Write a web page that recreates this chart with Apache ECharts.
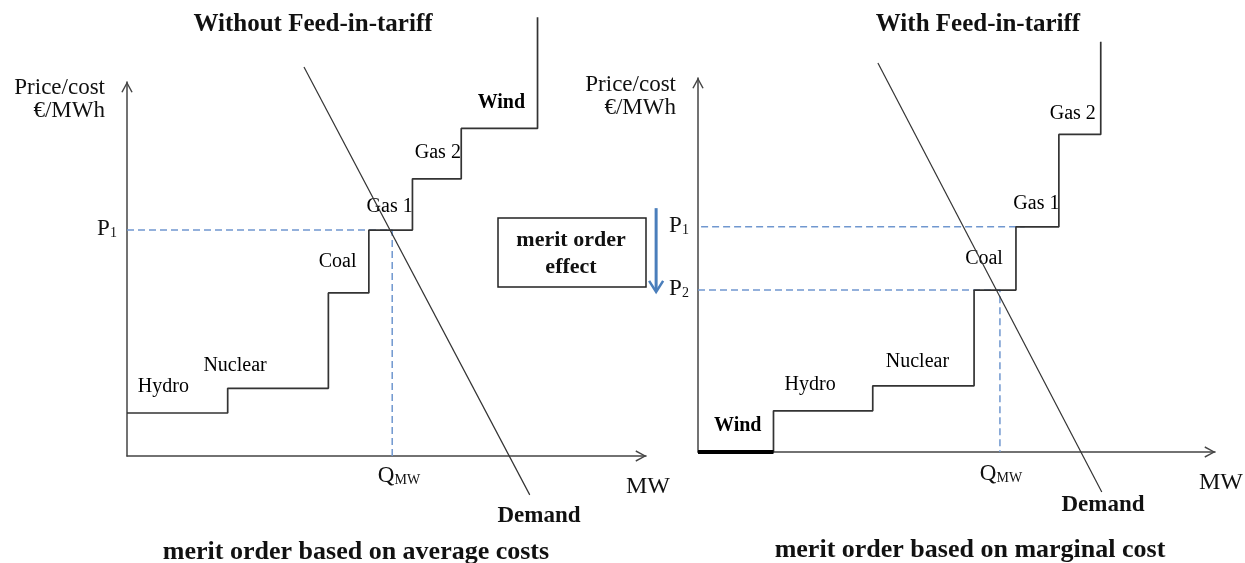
<!DOCTYPE html>
<html>
<head>
<meta charset="utf-8">
<title>Merit order effect</title>
<script src="https://cdn.jsdelivr.net/npm/echarts@6/dist/echarts.min.js"></script>
<style>
  html, body { margin: 0; padding: 0; background: #fff; }
  #chart { width: 1245px; height: 563px; }
</style>
</head>
<body>
<div id="chart"></div>
<script>
// 左图：没有上网电价 (units: MW on x, €/MWh on y, both 0..100)
const leftPlants = ['Hydro', 'Nuclear', 'Coal', 'Gas 1', 'Gas 2', 'Wind'];
const leftCapEdges = [0, 19.4, 38.8, 46.6, 55.0, 64.4, 79.1]; // cumulative capacity
const leftCost = [11.5, 18.1, 43.6, 60.4, 74.1, 87.6];
const leftCapTop = 117.3;
const leftDemand = [[34.1, 104.0], [77.6, -10.4]];
const leftP1 = 60.4;
const leftQ = 51.1;

// 右图：有上网电价
const rightPlants = ['Wind', 'Hydro', 'Nuclear', 'Coal', 'Gas 1', 'Gas 2'];
const rightCapEdges = [0, 14.6, 33.8, 53.4, 61.5, 69.8, 77.9];
const rightCost = [0, 11.0, 17.7, 43.3, 60.2, 84.9];
const rightCapTop = 109.7;
const rightDemand = [[34.8, 104.0], [78.1, -10.7]];
const rightP1 = 60.2;
const rightP2 = 43.3;
const rightQ = 58.4;
const rightP1DashEnd = 63.2;

// label offsets (px) from the middle of each step
const leftLabelOffset = [[-14, -26], [-43, -23], [-11, -31], [-1, -23], [1, -26], [2, -26]];
const rightLabelOffset = [[2, -26], [-13, -26], [-6, -24], [-11, -31], [-1, -23], [-7, -21]];

const FONT = '"Liberation Serif", "Times New Roman", serif';
const LINE = '#333';
const DASH = '#7097cf';
const BLUE = '#4a7ebb';
const chevron = 'path://M0,11 L6,0 L12,11 L10.6,11.6 L6,2.8 L1.4,11.6 Z';

function stepPoints(edges, cost, top) {
  const pts = [];
  for (let i = 0; i < cost.length; i++) {
    pts.push([edges[i], cost[i]], [edges[i + 1], cost[i]]);
  }
  pts.push([edges[edges.length - 1], top]);
  return pts;
}

function plantLabels(names, edges, cost, offsets) {
  return names.map((n, i) => ({
    name: n,
    value: [(edges[i] + edges[i + 1]) / 2, cost[i]],
    label: {
      offset: offsets[i],
      fontWeight: n === 'Wind' ? 'bold' : 'normal'
    }
  }));
}

function axisPair(gridIndex) {
  return {
    gridIndex: gridIndex,
    type: 'value',
    min: 0,
    max: 100,
    axisLabel: { show: false },
    axisTick: { show: false },
    splitLine: { show: false },
    axisLine: {
      show: true,
      symbol: ['none', chevron],
      symbolSize: [12, 11],
      symbolOffset: [0, -5],
      lineStyle: { color: '#444', width: 1.5 }
    }
  };
}

function line(gridIndex, data, style) {
  return {
    type: 'line',
    xAxisIndex: gridIndex,
    yAxisIndex: gridIndex,
    data: data,
    symbol: 'none',
    clip: false,
    silent: true,
    lineStyle: style
  };
}

function labelSeries(gridIndex, data) {
  return {
    type: 'scatter',
    xAxisIndex: gridIndex,
    yAxisIndex: gridIndex,
    data: data,
    symbolSize: 0,
    clip: false,
    silent: true,
    itemStyle: { color: '#000', opacity: 1 },
    label: {
      show: true,
      position: 'inside',
      formatter: '{b}',
      color: '#000',
      opacity: 1,
      textBorderWidth: 0,
      fontFamily: FONT,
      fontSize: 20
    }
  };
}

function txt(x, y, text, size, weight, align) {
  return {
    type: 'text',
    x: x,
    y: y,
    style: {
      text: text,
      fill: '#111',
      font: (weight || 'normal') + ' ' + size + 'px ' + FONT,
      align: align || 'center',
      verticalAlign: 'middle'
    }
  };
}

function subText(x, y, big, small) {
  return {
    type: 'text',
    x: x,
    y: y,
    style: {
      text: '{b|' + big + '}{s|' + small + '}',
      align: 'center',
      verticalAlign: 'middle',
      rich: {
        b: { fontFamily: FONT, fontSize: 23, fill: '#111', verticalAlign: 'bottom', lineHeight: 24 },
        s: { fontFamily: FONT, fontSize: 14, fill: '#111', verticalAlign: 'bottom', lineHeight: 20 }
      }
    }
  };
}

const arrowX = -8.1;

const option = {
  animation: false,
  grid: [
    { left: 127, top: 82, width: 519, height: 374 },
    { left: 698, top: 78, width: 517, height: 374 }
  ],
  xAxis: [axisPair(0), axisPair(1)],
  yAxis: [axisPair(0), axisPair(1)],
  series: [
    // left panel
    line(0, [[0, leftP1], [leftQ, leftP1], [leftQ, 0]], { color: DASH, width: 1.5, type: [7, 4] }),
    line(0, stepPoints(leftCapEdges, leftCost, leftCapTop), { color: LINE, width: 1.7 }),
    line(0, leftDemand, { color: '#333', width: 1.2 }),
    labelSeries(0, plantLabels(leftPlants, leftCapEdges, leftCost, leftLabelOffset)),
    // right panel
    line(1, [[0.6, rightP1], [rightP1DashEnd, rightP1]], { color: DASH, width: 1.5, type: [7, 4] }),
    line(1, [[0, rightP2], [rightQ, rightP2], [rightQ, 0]], { color: DASH, width: 1.5, type: [7, 4] }),
    line(1, stepPoints(rightCapEdges, rightCost, rightCapTop), { color: LINE, width: 1.7 }),
    line(1, [[rightCapEdges[0], 0], [rightCapEdges[1], 0]], { color: '#000', width: 4 }),
    line(1, rightDemand, { color: '#333', width: 1.2 }),
    labelSeries(1, plantLabels(rightPlants, rightCapEdges, rightCost, rightLabelOffset)),
    // merit order effect arrow (P1 -> P2), left of the right panel's price axis
    {
      type: 'custom',
      xAxisIndex: 1,
      yAxisIndex: 1,
      silent: true,
      clip: false,
      encode: { x: 0, y: [1, 2] },
      data: [[arrowX, rightP1 + 5, rightP2 - 0.5]],
      renderItem: function (params, api) {
        const top = api.coord([api.value(0), api.value(1)]);
        const tip = api.coord([api.value(0), api.value(2)]);
        return {
          type: 'group',
          children: [
            {
              type: 'line',
              shape: { x1: top[0], y1: top[1], x2: tip[0], y2: tip[1] - 2 },
              style: { stroke: BLUE, lineWidth: 3 }
            },
            {
              type: 'polyline',
              shape: { points: [[tip[0] - 7, tip[1] - 11], [tip[0], tip[1]], [tip[0] + 7, tip[1] - 11]] },
              style: { stroke: BLUE, lineWidth: 2.5, fill: null }
            }
          ]
        };
      }
    }
  ],
  graphic: [
    txt(313, 25, 'Without Feed-in-tariff', 25, 'bold'),
    txt(978, 25, 'With Feed-in-tariff', 25, 'bold'),
    txt(105, 88, 'Price/cost', 23, 'normal', 'right'),
    txt(105, 111, '€/MWh', 23, 'normal', 'right'),
    txt(676, 85, 'Price/cost', 23, 'normal', 'right'),
    txt(676, 108, '€/MWh', 23, 'normal', 'right'),
    subText(107, 228, 'P', '1'),
    subText(679, 225, 'P', '1'),
    subText(679, 288, 'P', '2'),
    subText(399, 475, 'Q', 'MW'),
    subText(1001, 473, 'Q', 'MW'),
    txt(648, 487, 'MW', 24),
    txt(1199, 483, 'MW', 24, 'normal', 'left'),
    txt(539, 516, 'Demand', 23, 'bold'),
    txt(1103, 505, 'Demand', 23, 'bold'),
    txt(356, 552, 'merit order based on average costs', 26, 'bold'),
    txt(970, 550, 'merit order based on marginal cost', 26, 'bold'),
    {
      type: 'rect',
      shape: { x: 498, y: 218, width: 148, height: 69 },
      style: { fill: 'none', stroke: '#222', lineWidth: 1.5 }
    },
    txt(571, 240, 'merit order', 22, 'bold'),
    txt(571, 267, 'effect', 22, 'bold')
  ]
};

const chart = echarts.init(document.getElementById('chart'));
chart.setOption(option);
</script>
</body>
</html>
